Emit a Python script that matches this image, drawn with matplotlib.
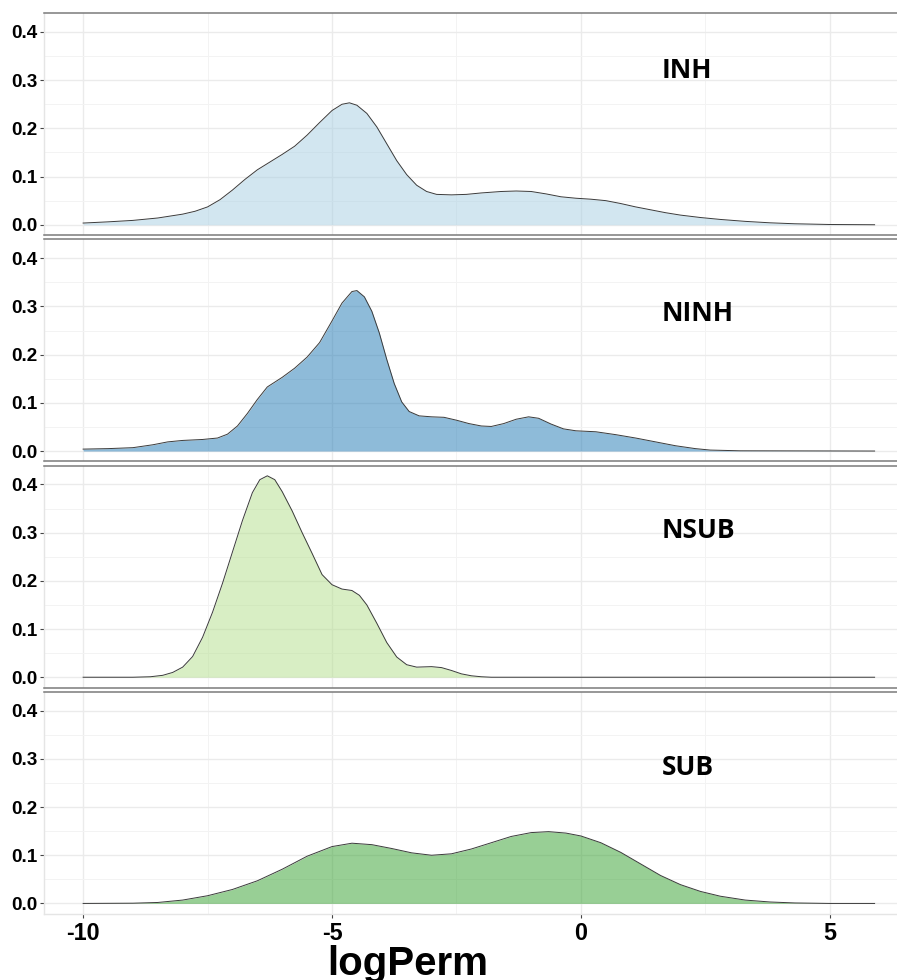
import matplotlib.pyplot as plt
from matplotlib.ticker import MultipleLocator

# density estimates of log permeability, one per compound class
groups = ['INH', 'NINH', 'NSUB', 'SUB']

inh_x = [-10.0, -9.5, -9.0, -8.5, -8.0, -7.75, -7.5, -7.25, -7.0, -6.75, -6.5, -6.25,
         -6.0, -5.75, -5.5, -5.25, -5.0, -4.8, -4.65, -4.5, -4.3, -4.1, -3.9, -3.7,
         -3.5, -3.3, -3.1, -2.9, -2.6, -2.3, -2.0, -1.6, -1.3, -1.0, -0.7, -0.4, -0.1,
         0.2, 0.5, 0.8, 1.1, 1.4, 1.7, 2.0, 2.4, 2.8, 3.3, 3.8, 4.3, 5.0, 5.9]
inh_y = [0.0035, 0.006, 0.009, 0.014, 0.022, 0.028, 0.037, 0.052, 0.072, 0.094, 0.114,
         0.130, 0.146, 0.163, 0.186, 0.212, 0.237, 0.250, 0.253, 0.248, 0.231, 0.203,
         0.168, 0.133, 0.104, 0.082, 0.069, 0.063, 0.062, 0.063, 0.066, 0.069, 0.070,
         0.069, 0.064, 0.058, 0.055, 0.053, 0.050, 0.044, 0.037, 0.031, 0.025, 0.020,
         0.015, 0.011, 0.007, 0.004, 0.002, 0.0005, 0.0]

ninh_x = [-10.0, -9.5, -9.0, -8.6, -8.3, -8.0, -7.6, -7.3, -7.1, -6.9, -6.7, -6.5, -6.3,
          -6.0, -5.75, -5.5, -5.25, -5.0, -4.8, -4.6, -4.5, -4.35, -4.2, -4.05, -3.9,
          -3.75, -3.6, -3.45, -3.25, -3.0, -2.75, -2.5, -2.25, -2.0, -1.8, -1.55, -1.3,
          -1.05, -0.85, -0.6, -0.35, -0.1, 0.3, 0.7, 1.1, 1.5, 1.9, 2.3, 2.6, 3.2, 5.9]
ninh_y = [0.004, 0.005, 0.007, 0.013, 0.019, 0.022, 0.024, 0.027, 0.035, 0.052, 0.078,
          0.107, 0.133, 0.153, 0.172, 0.195, 0.225, 0.270, 0.307, 0.331, 0.333, 0.320,
          0.290, 0.245, 0.190, 0.140, 0.102, 0.082, 0.073, 0.071, 0.070, 0.064, 0.057,
          0.052, 0.051, 0.057, 0.066, 0.071, 0.068, 0.056, 0.046, 0.042, 0.040, 0.034,
          0.027, 0.019, 0.011, 0.005, 0.002, 0.0005, 0.0]

nsub_x = [-10.0, -9.0, -8.65, -8.4, -8.2, -8.0, -7.8, -7.6, -7.4, -7.2, -7.0, -6.8,
          -6.6, -6.45, -6.3, -6.15, -6.0, -5.8, -5.6, -5.4, -5.2, -5.0, -4.8, -4.6,
          -4.45, -4.3, -4.1, -3.9, -3.7, -3.5, -3.3, -3.0, -2.8, -2.6, -2.4, -2.2,
          -2.0, -1.8, 5.9]
nsub_y = [0.0, 0.0, 0.001, 0.004, 0.010, 0.021, 0.043, 0.083, 0.135, 0.195, 0.260,
          0.325, 0.383, 0.410, 0.418, 0.410, 0.385, 0.345, 0.300, 0.257, 0.213, 0.192,
          0.183, 0.180, 0.170, 0.150, 0.112, 0.072, 0.042, 0.026, 0.021, 0.022, 0.020,
          0.014, 0.007, 0.003, 0.001, 0.0, 0.0]

sub_x = [-10.0, -9.0, -8.5, -8.0, -7.5, -7.0, -6.5, -6.0, -5.5, -5.0, -4.6, -4.2,
         -3.8, -3.4, -3.0, -2.6, -2.2, -1.8, -1.4, -1.0, -0.65, -0.3, 0.0, 0.4, 0.8,
         1.2, 1.6, 2.0, 2.4, 2.8, 3.3, 3.8, 4.3, 5.0, 5.9]
sub_y = [0.0, 0.0005, 0.002, 0.007, 0.016, 0.029, 0.047, 0.071, 0.098, 0.118, 0.125,
         0.122, 0.114, 0.105, 0.100, 0.103, 0.113, 0.126, 0.139, 0.147, 0.149, 0.146,
         0.140, 0.126, 0.106, 0.082, 0.058, 0.039, 0.025, 0.015, 0.007, 0.003, 0.001,
         0.0, 0.0]

curves_x = [inh_x, ninh_x, nsub_x, sub_x]
curves_y = [inh_y, ninh_y, nsub_y, sub_y]
fills = ['#A6CEE3', '#1F78B4', '#B2DF8A', '#33A02C']
label_y = [0.321, 0.286, 0.305, 0.282]

x_ticks = [-10, -5, 0, 5]
y_ticks = [0.0, 0.1, 0.2, 0.3, 0.4]

W, H = 897, 980
fig = plt.figure(figsize=(W / 100, H / 100), dpi=100)

panel_tops = [13, 239.3, 465.5, 691.7]
panel_h = 222
left_px = 44.3

for i, g in enumerate(groups):
    top = panel_tops[i]
    ax = fig.add_axes([left_px / W, 1 - (top + panel_h) / H, 1 - left_px / W, panel_h / H])
    ax.set_xlim(-10.78, 6.35)
    ax.set_ylim(-0.0213, 0.4394)

    ax.xaxis.set_major_locator(MultipleLocator(5))
    ax.xaxis.set_minor_locator(MultipleLocator(2.5))
    ax.yaxis.set_major_locator(MultipleLocator(0.1))
    ax.yaxis.set_minor_locator(MultipleLocator(0.05))
    ax.grid(which='major', color='#ebebeb', lw=1.0)
    ax.grid(which='minor', color='#f3f3f3', lw=0.7)
    ax.set_axisbelow(True)

    ax.fill_between(curves_x[i], curves_y[i], 0, color=fills[i], alpha=0.5, lw=0)
    ax.plot(curves_x[i], curves_y[i], color='#3a3a3a', lw=0.7)

    ax.text(1.62, label_y[i], g, fontsize=19, fontweight='bold',
            family='Open Sans', ha='left', va='center')

    ax.set_yticks(y_ticks)
    ax.set_yticklabels(['%.1f' % v for v in y_ticks], fontsize=13.6,
                       fontweight='bold', family='Liberation Sans')
    ax.tick_params(axis='y', which='major', length=3, width=0.8, color='#444444', pad=2)
    ax.tick_params(which='minor', length=0)

    ax.spines['right'].set_visible(False)
    ax.spines['left'].set_color('#e5e5e5')
    ax.spines['left'].set_linewidth(1.0)
    ax.spines['top'].set_color('#7a7a7a')
    ax.spines['top'].set_linewidth(1.1)
    if i < 3:
        ax.spines['bottom'].set_color('#7a7a7a')
        ax.spines['bottom'].set_linewidth(1.1)
        ax.tick_params(axis='x', which='major', length=0, labelbottom=False)
    else:
        ax.spines['bottom'].set_color('#e5e5e5')
        ax.spines['bottom'].set_linewidth(1.0)
        ax.set_xticks(x_ticks)
        ax.set_xticklabels([str(v) for v in x_ticks], fontsize=16.8,
                           fontweight='bold', family='Liberation Sans')
        ax.tick_params(axis='x', which='major', length=3, width=0.8,
                       color='#444444', pad=3)

fig.text(408 / W, 1 - 975 / H, 'logPerm', fontsize=29, fontweight='bold',
         family='Liberation Sans', ha='center', va='baseline')

fig.savefig('out.png', dpi=100)
